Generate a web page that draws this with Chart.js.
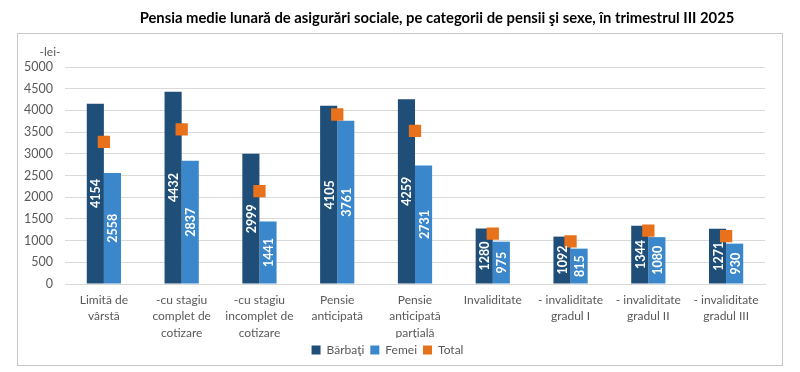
<!DOCTYPE html>
<html>
<head>
<meta charset="utf-8">
<script src="https://cdn.jsdelivr.net/npm/chart.js@4.4.1/dist/chart.umd.min.js"></script>
<style>
  body { margin: 0; background: #fff; }
  #wrap { position: relative; width: 800px; height: 372px; }
  #box { position: absolute; left: 17px; top: 33px; width: 764px; height: 331px; border: 1px solid #c8c8c8; }
  canvas { position: absolute; left: 0; top: 0; }
</style>
</head>
<body>
<div id="wrap">
  <div id="box"></div>
  <canvas id="myChart" width="800" height="372"></canvas>
</div>
<script>
// chart data
const categories = [
  ["Limită de", "vârstă"],
  ["-cu stagiu", "complet de", "cotizare"],
  ["-cu stagiu", "incomplet de", "cotizare"],
  ["Pensie", "anticipată"],
  ["Pensie", "anticipată", "parţială"],
  ["Invaliditate"],
  ["- invaliditate", "gradul I"],
  ["- invaliditate", "gradul II"],
  ["- invaliditate", "gradul III"],
];
const barbati = [4154, 4432, 2999, 4105, 4259, 1280, 1092, 1344, 1271];
const femei = [2558, 2837, 1441, 3761, 2731, 975, 815, 1080, 930];
const total = [3275, 3565, 2140, 3905, 3530, 1160, 980, 1230, 1105];

const FONT = "Lato";
const TITLE = "Pensia medie lunară de asigurări sociale, pe categorii de pensii şi sexe, în trimestrul III 2025";

// title, unit label and rotated labels inside the bars
const extraText = {
  id: "extraText",
  afterDatasetsDraw(chart) {
    const ctx = chart.ctx;
    ctx.save();
    ctx.fillStyle = "#ffffff";
    ctx.font = "bold 12.5px " + FONT;
    ctx.textAlign = "center";
    ctx.textBaseline = "middle";
    [0, 1].forEach((i) => {
      const meta = chart.getDatasetMeta(i);
      meta.data.forEach((bar, j) => {
        const cy = (bar.y + bar.base) / 2;
        ctx.save();
        ctx.translate(bar.x, cy);
        ctx.rotate(-Math.PI / 2);
        ctx.fillText(chart.data.datasets[i].data[j], 0, 1);
        ctx.restore();
      });
    });
    ctx.fillStyle = "#595959";
    ctx.font = "12px " + FONT;
    ctx.fillText("-lei-", 50, 52);

    ctx.fillStyle = "#000000";
    ctx.font = "bold 14.8px " + FONT;
    ctx.fillText(TITLE, 437, 18);
    ctx.restore();
  },
};

const ctx = document.getElementById("myChart");
const chart = new Chart(ctx, {
  data: {
    labels: categories,
    datasets: [
      {
        type: "bar",
        label: "Bărbaţi",
        data: barbati,
        backgroundColor: "#1F4E79",
        order: 1,
      },
      {
        type: "bar",
        label: "Femei",
        data: femei,
        backgroundColor: "#3B87CB",
        order: 1,
      },
      {
        type: "line",
        label: "Total",
        data: total,
        showLine: false,
        pointStyle: "rect",
        pointRadius: 8.7,
        pointHoverRadius: 8.7,
        backgroundColor: "#E8711B",
        borderColor: "#E8711B",
        borderWidth: 0,
        order: 0,
      },
    ],
  },
  options: {
    responsive: false,
    animation: false,
    layout: { padding: { left: 10, right: 35, top: 67, bottom: 6 } },
    datasets: {
      bar: { categoryPercentage: 0.44, barPercentage: 1.0 },
    },
    plugins: {
      title: { display: false },
      legend: {
        position: "bottom",
        labels: {
          boxWidth: 9,
          boxHeight: 9,
          padding: 6,
          color: "#595959",
          font: { family: FONT, size: 12 },
          sort: (a, b) => a.datasetIndex - b.datasetIndex,
        },
      },
      tooltip: { enabled: false },
    },
    scales: {
      x: {
        grid: { display: false },
        border: { color: "#d9d9d9" },
        afterFit: (scale) => {
          scale.height = 54;
        },
        ticks: {
          color: "#595959",
          font: { family: FONT, size: 12, lineHeight: 1.36 },
          padding: 0,
          maxRotation: 0,
          autoSkip: false,
        },
      },
      y: {
        min: 0,
        max: 5000,
        afterFit: (scale) => {
          scale.width = 55;
        },
        ticks: {
          stepSize: 500,
          color: "#595959",
          font: { family: FONT, size: 12.5 },
          padding: 12,
          callback: (v) => String(v),
        },
        grid: { color: "#d9d9d9", drawTicks: false },
        border: { display: false },
      },
    },
  },
  plugins: [extraText],
});
</script>
</body>
</html>
